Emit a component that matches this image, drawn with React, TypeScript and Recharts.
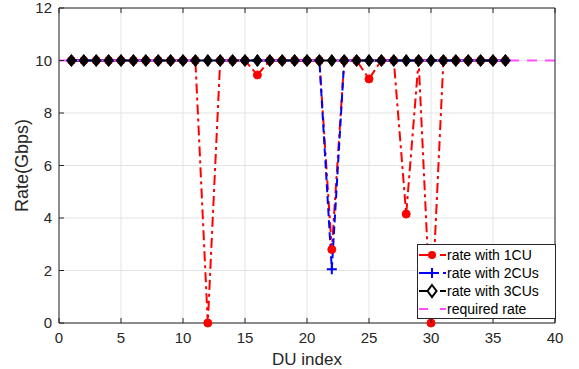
import { LineChart, Line, XAxis, YAxis, CartesianGrid, Legend } from "recharts";

const duIndex = [1, 2, 3, 4, 5, 6, 7, 8, 9, 10, 11, 12, 13, 14, 15, 16, 17, 18, 19, 20, 21, 22, 23, 24, 25, 26, 27, 28, 29, 30, 31, 32, 33, 34, 35, 36];
const rate1CU = [10, 10, 10, 10, 10, 10, 10, 10, 10, 10, 10, 0, 10, 10, 10, 9.45, 10, 10, 10, 10, 10, 2.8, 10, 10, 9.3, 10, 10, 4.15, 10, 0, 10, 10, 10, 10, 10, 10];
const rate2CUs = [10, 10, 10, 10, 10, 10, 10, 10, 10, 10, 10, 10, 10, 10, 10, 10, 10, 10, 10, 10, 10, 2.05, 10, 10, 10, 10, 10, 10, 10, 10, 10, 10, 10, 10, 10, 10];
const rate3CUs = [10, 10, 10, 10, 10, 10, 10, 10, 10, 10, 10, 10, 10, 10, 10, 10, 10, 10, 10, 10, 10, 10, 10, 10, 10, 10, 10, 10, 10, 10, 10, 10, 10, 10, 10, 10];
const requiredX = [0, 40];
const requiredRate = [10, 10];
const xTicks = [0, 5, 10, 15, 20, 25, 30, 35, 40];
const yTicks = [0, 2, 4, 6, 8, 10, 12];

const table = duIndex.map((du, i) => ({ du, r1: rate1CU[i], r2: rate2CUs[i], r3: rate3CUs[i] }));
const reqTable = requiredX.map((du, i) => ({ du, req: requiredRate[i] }));

const AX = "#262626";
const FONT = '"Liberation Sans", Arial, Helvetica, sans-serif';

const RED = "#ff0000";
const BLUE = "#0000ff";
const MAGENTA = "#ff4dff";

function Circle(p: any) {
  return <circle key={`c-${p.index}`} cx={p.cx} cy={p.cy} r={4} fill={RED} stroke={RED} />;
}
function Plus(p: any) {
  return (
    <path
      key={`p-${p.index}`}
      d={`M${p.cx - 5},${p.cy}H${p.cx + 5}M${p.cx},${p.cy - 5}V${p.cy + 5}`}
      stroke={BLUE}
      strokeWidth={2}
      fill="none"
    />
  );
}
function Diamond(p: any) {
  return (
    <path
      key={`d-${p.index}`}
      d={`M${p.cx},${p.cy - 6}L${p.cx + 4.5},${p.cy}L${p.cx},${p.cy + 6}L${p.cx - 4.5},${p.cy}Z`}
      fill="#000"
      stroke="#000"
      strokeWidth={1}
    />
  );
}

const BottomTick = (p: any) => (
  <g>
    <line x1={p.x} x2={p.x} y1={p.y} y2={p.y - 5} stroke={AX} />
    <text x={p.x} y={p.y + 20} textAnchor="middle" fontSize={15} fill={AX} fontFamily={FONT}>
      {p.payload.value}
    </text>
  </g>
);
const TopTick = (p: any) => <line x1={p.x} x2={p.x} y1={p.y} y2={p.y + 5} stroke={AX} />;
const LeftTick = (p: any) => (
  <g>
    <line x1={p.x} x2={p.x + 5} y1={p.y} y2={p.y} stroke={AX} />
    <text x={p.x - 7} y={p.y} dy="0.35em" textAnchor="end" fontSize={15} fill={AX} fontFamily={FONT}>
      {p.payload.value}
    </text>
  </g>
);
const RightTick = (p: any) => <line x1={p.x} x2={p.x - 5} y1={p.y} y2={p.y} stroke={AX} />;

const legendItems = [
  { name: "rate with 1CU", color: RED, dash: "10 4 3 4", marker: "circle" },
  { name: "rate with 2CUs", color: BLUE, dash: "8 4", marker: "plus" },
  { name: "rate with 3CUs", color: "#000", dash: "18 3 6", marker: "diamond" },
  { name: "required rate", color: MAGENTA, dash: "9 12 6", marker: "none" },
];

function LegendBox() {
  return (
    <div
      style={{
        border: `1px solid ${AX}`,
        background: "#fff",
        boxSizing: "border-box",
        width: 139,
        height: 75,
        paddingTop: 1,
        fontFamily: FONT,
        fontSize: 14,
        color: "#000",
      }}
    >
      {legendItems.map((it) => (
        <div key={it.name} style={{ display: "flex", alignItems: "center", height: 18 }}>
          <svg width={29} height={18} style={{ display: "block" }}>
            <line x1={1} x2={28} y1={9} y2={9} stroke={it.color} strokeWidth={2} strokeDasharray={it.dash} />
            {it.marker === "circle" && <circle cx={14} cy={9} r={4} fill={RED} />}
            {it.marker === "plus" && <path d="M9,9H19M14,4V14" stroke={BLUE} strokeWidth={2} />}
            {it.marker === "diamond" && <path d="M14,3L18.5,9L14,15L9.5,9Z" fill="#fff" stroke="#000" strokeWidth={2} />}
          </svg>
          <span style={{ whiteSpace: "nowrap", lineHeight: "18px" }}>{it.name}</span>
        </div>
      ))}
    </div>
  );
}

const YTitle = (p: any) => {
  const vb = p.viewBox;
  const x = vb.x + 28;
  const y = vb.y + vb.height / 2;
  return (
    <text x={x} y={y} textAnchor="middle" fontSize={18} fill={AX} fontFamily={FONT} transform={`rotate(-90 ${x} ${y})`}>
      Rate(Gbps)
    </text>
  );
};
const XTitle = (p: any) => {
  const vb = p.viewBox;
  return (
    <text x={vb.x + vb.width / 2} y={vb.y + 42} textAnchor="middle" fontSize={17} fill={AX} fontFamily={FONT}>
      DU index
    </text>
  );
};

export default function App() {
  return (
    <div style={{ position: "absolute", left: 0, top: 0, width: 579, height: 369, background: "#fff" }}>
      <LineChart width={579} height={369} data={table} margin={{ top: 7, right: 23, left: 0, bottom: 0 }}>
        <CartesianGrid stroke="#e3e3e3" horizontalValues={yTicks} verticalValues={xTicks} />
        <XAxis
          dataKey="du"
          type="number"
          domain={[0, 40]}
          ticks={xTicks}
          interval={0}
          height={46}
          tickSize={0}
          tickMargin={0}
          tickLine={false}
          axisLine={{ stroke: AX }}
          tick={BottomTick}
          label={XTitle}
        />
        <XAxis
          xAxisId="top"
          orientation="top"
          dataKey="du"
          type="number"
          domain={[0, 40]}
          ticks={xTicks}
          interval={0}
          height={1}
          tickSize={0}
          tickMargin={0}
          tickLine={false}
          axisLine={{ stroke: AX }}
          tick={TopTick}
        />
        <YAxis
          type="number"
          domain={[0, 12]}
          ticks={yTicks}
          interval={0}
          width={59}
          tickSize={0}
          tickMargin={0}
          tickLine={false}
          axisLine={{ stroke: AX }}
          tick={LeftTick}
          label={YTitle}
        />
        <YAxis
          yAxisId="right"
          orientation="right"
          type="number"
          domain={[0, 12]}
          ticks={yTicks}
          interval={0}
          width={1}
          tickSize={0}
          tickMargin={0}
          tickLine={false}
          axisLine={{ stroke: AX }}
          tick={RightTick}
        />
        <Line
          type="linear"
          dataKey="r1"
          name="rate with 1CU"
          stroke={RED}
          strokeWidth={2}
          strokeDasharray="10 4 3 4"
          dot={Circle}
          activeDot={false}
          isAnimationActive={false}
        />
        <Line
          type="linear"
          dataKey="r2"
          name="rate with 2CUs"
          stroke={BLUE}
          strokeWidth={2}
          strokeDasharray="8 4"
          dot={Plus}
          activeDot={false}
          isAnimationActive={false}
        />
        <Line
          type="linear"
          dataKey="r3"
          name="rate with 3CUs"
          stroke="#000"
          strokeWidth={2}
          dot={Diamond}
          activeDot={false}
          isAnimationActive={false}
        />
        <Line
          type="linear"
          data={reqTable}
          dataKey="req"
          name="required rate"
          stroke={MAGENTA}
          strokeWidth={2}
          strokeDasharray="10 8"
          dot={false}
          activeDot={false}
          isAnimationActive={false}
        />
        <Legend
          layout="vertical"
          align="center"
          verticalAlign="middle"
          content={LegendBox}
          wrapperStyle={{ left: 417, top: 244, width: 139, height: 75 }}
        />
      </LineChart>
    </div>
  );
}
